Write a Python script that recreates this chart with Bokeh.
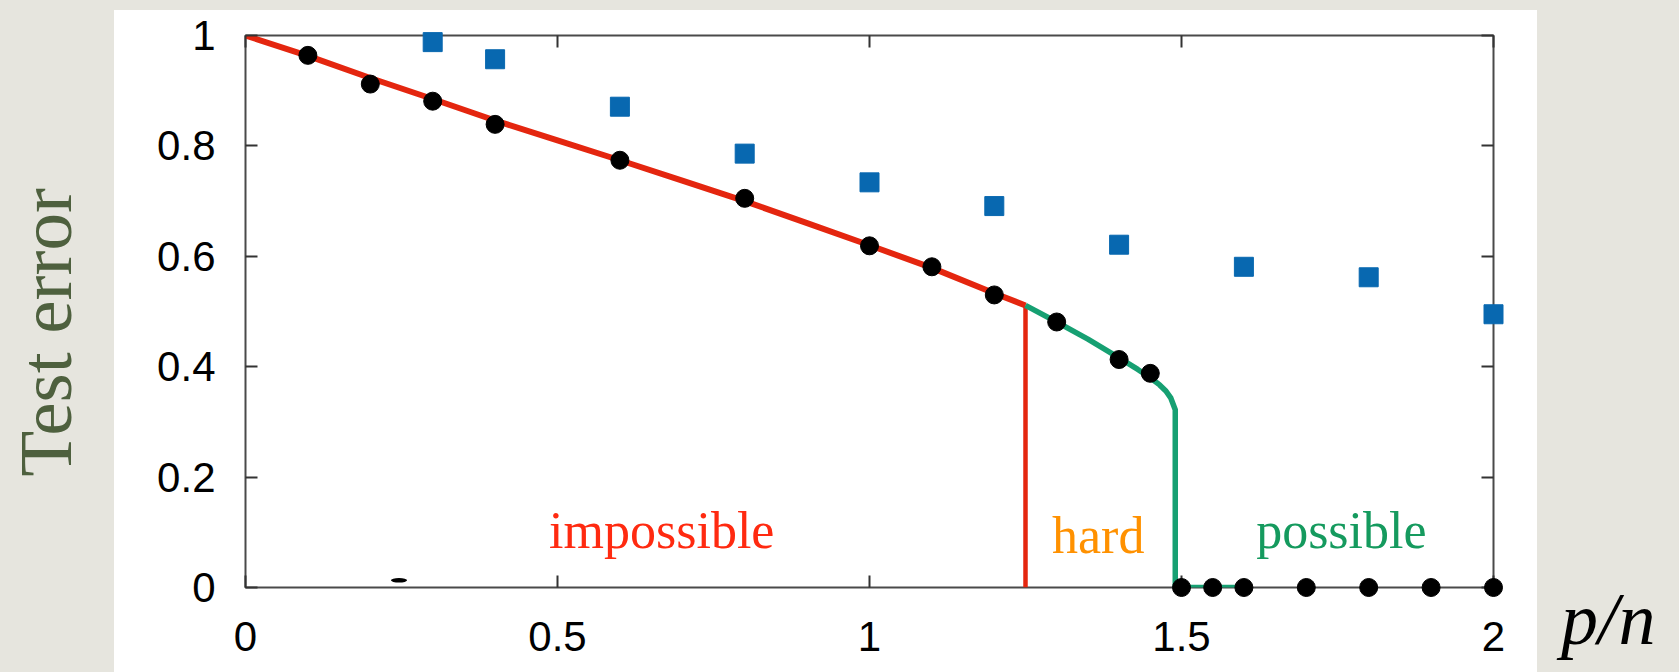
import math
from bokeh.plotting import figure
from bokeh.models import Range1d, LinearAxis, FixedTicker, Label
from bokeh.core.properties import value
from bokeh.embed import file_html
from bokeh.resources import INLINE

# ---- data ----
x_ticks = [0, 0.5, 1, 1.5, 2]
x_tick_labels = ["0", "0.5", "1", "1.5", "2"]
y_ticks = [0, 0.2, 0.4, 0.6, 0.8, 1.0]
y_tick_labels = ["0", "0.2", "0.4", "0.6", "0.8", "1"]

# simulation points (black circles)
dot_x = [0.1, 0.2, 0.3, 0.4, 0.6, 0.8, 1.0, 1.1, 1.2, 1.3, 1.4, 1.45,
         1.5, 1.55, 1.6, 1.7, 1.8, 1.9, 2.0]
dot_y = [0.964, 0.912, 0.881, 0.839, 0.774, 0.705, 0.619, 0.581, 0.530, 0.481,
         0.413, 0.388, 0.0, 0.0, 0.0, 0.0, 0.0, 0.0, 0.0]

# blue squares
sq_x = [0.3, 0.4, 0.6, 0.8, 1.0, 1.2, 1.4, 1.6, 1.8, 2.0]
sq_y = [0.988, 0.957, 0.871, 0.786, 0.734, 0.691, 0.621, 0.581, 0.562, 0.495]

# theory curve, "impossible" branch (red)
red_x = [0.0, 0.1, 0.2, 0.3, 0.4, 0.5, 0.6, 0.7, 0.8, 0.9, 1.0, 1.1, 1.2, 1.25]
red_y = [1.0, 0.963, 0.923, 0.885, 0.846, 0.810, 0.774, 0.737, 0.700, 0.660,
         0.620, 0.579, 0.533, 0.511]
# red boundary at the "hard" threshold
red_v_x = [1.25, 1.25]
red_v_y = [0.511, 0.0]

# theory curve, algorithmic branch (green)
green_x = [1.25, 1.3, 1.35, 1.4, 1.43, 1.45, 1.465, 1.475, 1.483, 1.49, 1.49, 1.6]
green_y = [0.511, 0.481, 0.450, 0.416, 0.395, 0.380, 0.367, 0.356, 0.343, 0.322,
           0.0, 0.0]

# stray mark near the bottom axis
stray_x = [0.246]
stray_y = [0.013]

region_labels = ["impossible", "hard", "possible"]
y_title = "Test error"
x_title = "p/n"

# ---- figure ----
BEIGE = "#e6e5de"
p = figure(width=1679, height=672, output_backend="svg", toolbar_location=None,
           x_range=Range1d(0, 2), y_range=Range1d(0, 1),
           min_border_left=245, min_border_right=186,
           min_border_top=35, min_border_bottom=85,
           x_axis_type=None, y_axis_type=None)
p.border_fill_color = None
p.background_fill_color = "white"
p.outline_line_color = "#4a4a4a"
p.outline_line_width = 2
p.grid.visible = False
p.styles = {"background": "linear-gradient(#ffffff,#ffffff) 114px 10px / 1423px 662px no-repeat, " + BEIGE}

def make_axis(ticks, labels, show_labels):
    ax = LinearAxis(ticker=FixedTicker(ticks=ticks))
    ax.axis_line_color = None
    ax.major_tick_in = 12
    ax.major_tick_out = 0
    ax.major_tick_line_color = "#333333"
    ax.major_tick_line_width = 2
    ax.minor_tick_line_color = None
    ax.major_label_text_font = "Liberation Sans"
    ax.major_label_text_color = "black"
    if show_labels:
        ax.major_label_overrides = {t: l for t, l in zip(ticks, labels)}
        ax.major_label_text_font_size = "42px"
    else:
        ax.major_label_overrides = {t: "" for t in ticks}
        ax.major_label_text_font_size = "8px"
        ax.major_label_standoff = 0
    return ax

xb = make_axis(x_ticks, x_tick_labels, True)
xb.major_label_standoff = 34
yl = make_axis(y_ticks, y_tick_labels, True)
yl.major_label_standoff = 30
xt = make_axis(x_ticks, x_tick_labels, False)
yr = make_axis(y_ticks, y_tick_labels, False)
p.add_layout(xb, "below")
p.add_layout(yl, "left")
p.add_layout(xt, "above")
p.add_layout(yr, "right")

RED = "#e4260f"
GREEN = "#16a072"
p.line(red_x, red_y, line_color=RED, line_width=6)
p.line(red_v_x, red_v_y, line_color=RED, line_width=4.5)
p.line(green_x, green_y, line_color=GREEN, line_width=5.5, line_join="round")

p.ellipse(x=stray_x, y=stray_y, width=0.026, height=0.008, fill_color="black",
          line_color=None)

p.scatter(sq_x, sq_y, marker="square", size=19, fill_color="#0868b0",
          line_color="#0868b0", level="overlay")
p.scatter(dot_x, dot_y, marker="circle", size=18, fill_color="black",
          line_color="black", level="overlay")

# region annotations
label_pos = [(0.4865, 0.104, "#ff2a10"), (1.2925, 0.095, "#ff9100"),
             (1.6196, 0.104, "#159a5e")]
for txt, (lx, ly, col) in zip(region_labels, label_pos):
    p.add_layout(Label(x=lx, y=ly, text=txt, text_font="Liberation Serif",
                       text_font_size="52px", text_color=col,
                       text_align="left", text_baseline="alphabetic"))

# axis titles, drawn outside the white panel (unclipped overlay level)
p.text(x=[-0.3207], y=[0.4625], text=[y_title], angle=math.pi / 2,
       text_font=value("Liberation Serif"), text_font_size="75px",
       text_color="#4e603e", text_align="center",
       text_baseline="alphabetic", level="overlay")
p.text(x=[2.108], y=[-0.057], text=[x_title], text_font=value("Liberation Serif"),
       text_font_style="italic", text_font_size="74px",
       text_color="black", text_align="left",
       text_baseline="alphabetic", level="overlay")

open("out.html", "w").write(file_html(p, INLINE))
